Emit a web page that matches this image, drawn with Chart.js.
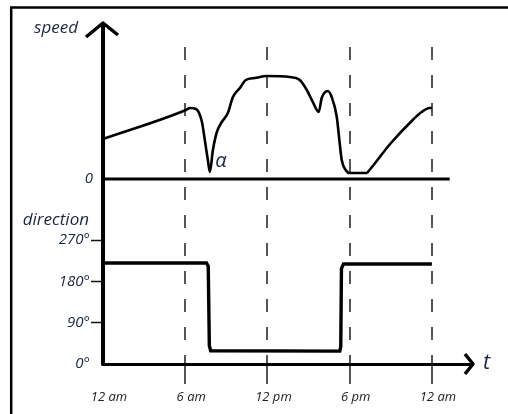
<!DOCTYPE html>
<html>
<head>
<meta charset="utf-8">
<script src="https://cdn.jsdelivr.net/npm/chart.js@4"></script>
<style>
  html, body { margin: 0; padding: 0; background: #fff; }
  #wrap { position: relative; width: 508px; height: 414px; }
</style>
</head>
<body>
<div id="wrap"><canvas id="chart" width="508" height="414"></canvas></div>
<script>
// hours since midnight and speed (arbitrary units, 0 = stopped)
const speedHours  = [0, 6.05, 6.35, 6.79, 7.22, 7.43, 7.65, 7.8, 8.02, 8.31, 8.67, 9.11, 9.48, 9.99, 10.42, 11.08, 11.95, 13.63, 14.36, 14.87, 15.31, 15.74, 15.96, 16.4, 16.69, 17.06, 17.27, 17.42, 17.71, 18.0, 19.24, 19.45, 20.95, 22.6, 23.25, 23.83, 24];
const speedValues = [40, 69, 71, 70, 57, 39, 19, 7, 29, 47, 57, 66, 82, 91, 99, 101, 103, 102, 99, 89, 77, 67, 81, 88, 82, 62, 36, 19, 9, 6, 6, 9, 35, 59, 67, 71, 71];

// direction in degrees
const dirHours  = [0, 7.55, 7.68, 7.76, 7.86, 17.28, 17.35, 17.4, 17.55, 24];
const dirValues = [220, 220, 213, 40, 29, 28, 38, 208, 218, 218];
// flat parts only, for the white stripe inside the line
const stripeHours  = [0, 7.55, 7.7, 7.86, 17.28, 17.4, 17.55, 24];
const stripeValues = [220, 220, null, 29, 28, null, 218, 218];

const hourTicks = [0, 6, 12, 18, 24];
const hourLabels = ["12 am", "6 am", "12 pm", "6 pm", "12 am"];
const dirTicks = [0, 90, 180, 270];

const TEXT = "#1c2541";
const pts = (xs, ys) => xs.map((x, i) => ({ x: x, y: ys[i] }));

// axes with arrows, frame and free labels
const decor = {
  id: "decor",
  afterDraw(chart) {
    const { ctx, chartArea: a, scales } = chart;
    const xs = scales.x, ss = scales.speed, ds = scales.dir;
    const x0 = xs.getPixelForValue(0);
    const y0 = ss.getPixelForValue(0);
    ctx.save();
    ctx.strokeStyle = "#000";
    ctx.lineCap = "butt";

    // frame
    ctx.lineWidth = 2.5;
    ctx.beginPath();
    ctx.moveTo(11.2, 414); ctx.lineTo(11.2, 7.5); ctx.lineTo(508, 7.5);
    ctx.stroke();

    // vertical axis + top arrow
    ctx.lineWidth = 4;
    ctx.beginPath();
    ctx.moveTo(x0, a.bottom + 1.5); ctx.lineTo(x0, a.top - 23);
    ctx.stroke();
    ctx.lineWidth = 3.5;
    ctx.lineJoin = "round";
    ctx.beginPath();
    ctx.moveTo(x0 - 17, a.top - 10); ctx.lineTo(x0, a.top - 24); ctx.lineTo(x0 + 15, a.top - 12);
    ctx.stroke();

    // speed zero line
    ctx.lineWidth = 3;
    ctx.beginPath();
    ctx.moveTo(x0, y0); ctx.lineTo(xs.getPixelForValue(25.3), y0);
    ctx.stroke();

    // time arrow head
    ctx.lineWidth = 3.5;
    ctx.beginPath();
    ctx.moveTo(a.right - 8, a.bottom - 10); ctx.lineTo(a.right, a.bottom); ctx.lineTo(a.right - 8, a.bottom + 10);
    ctx.stroke();

    // labels
    ctx.fillStyle = TEXT;
    ctx.textBaseline = "middle";
    ctx.font = "italic 17px 'Open Sans'";
    ctx.textAlign = "right";
    ctx.fillText("speed", x0 - 25, a.top - 19);
    ctx.fillText("direction", x0 - 14, ds.getPixelForValue(270) - 20);
    ctx.textAlign = "left";
    ctx.font = "italic 22px 'Open Sans'";
    ctx.fillText("t", a.right + 10, a.bottom - 1);
    ctx.font = "italic 20px 'Open Sans'";
    ctx.fillText("α", xs.getPixelForValue(8.2), ss.getPixelForValue(18));
    ctx.restore();
  }
};

const hideZero = (c, col) => (c.tick && c.tick.value === 0 ? "rgba(0,0,0,0)" : col);

new Chart(document.getElementById("chart"), {
  type: "line",
  data: {
    datasets: [
      {
        data: pts(speedHours, speedValues),
        yAxisID: "speed",
        borderColor: "#000",
        borderWidth: 2.6,
        pointRadius: 0,
        cubicInterpolationMode: "monotone"
      },
      {
        data: pts(dirHours, dirValues),
        yAxisID: "dir",
        borderColor: "#000",
        borderWidth: 3.4,
        pointRadius: 0,
        tension: 0
      },
      {
        data: pts(stripeHours, stripeValues),
        yAxisID: "dir",
        borderColor: "#fff",
        borderWidth: 1.3,
        borderDash: [5, 3],
        pointRadius: 0,
        spanGaps: false,
        tension: 0
      }
    ]
  },
  options: {
    responsive: false,
    animation: false,
    devicePixelRatio: 1,
    layout: { padding: { top: 47, right: 35, left: 0, bottom: 0 } },
    plugins: { legend: { display: false }, tooltip: { enabled: false } },
    scales: {
      x: {
        type: "linear",
        min: 0,
        max: 27,
        afterBuildTicks: s => { s.ticks = hourTicks.map(v => ({ value: v })); },
        afterFit: s => { s.height = 50; },
        grid: {
          color: c => hideZero(c, "#555"),
          lineWidth: 2,
          tickLength: 20,
          tickColor: c => hideZero(c, "#555"),
          tickWidth: 2
        },
        border: { display: true, color: "#000", width: 3, dash: [13, 15] },
        ticks: {
          callback: v => hourLabels[hourTicks.indexOf(v)],
          color: "#222",
          font: { family: "'Open Sans'", style: "italic", size: 13 },
          padding: 5,
          labelOffset: 6,
          maxRotation: 0
        }
      },
      // left boxes are laid out in reverse, so "dir" comes first to end up below
      dir: {
        type: "linear",
        position: "left",
        stack: "y",
        stackWeight: 185,
        min: 0,
        max: 403,
        afterBuildTicks: s => { s.ticks = dirTicks.map(v => ({ value: v })); },
        afterFit: s => { s.width = 103; },
        grid: {
          drawOnChartArea: false,
          drawTicks: true,
          tickLength: 12,
          tickWidth: 1.5,
          tickColor: c => hideZero(c, "#111")
        },
        border: { display: false },
        ticks: {
          callback: v => v + "°",
          color: TEXT,
          font: { family: "'Open Sans'", style: "italic", size: 15 },
          padding: 1
        }
      },
      speed: {
        type: "linear",
        position: "left",
        stack: "y",
        stackWeight: 132,
        min: 0,
        max: 132,
        afterBuildTicks: s => { s.ticks = [{ value: 0 }]; },
        afterFit: s => { s.width = 103; },
        grid: { display: false, drawTicks: false },
        border: { display: false },
        ticks: {
          color: TEXT,
          font: { family: "'Open Sans'", style: "italic", size: 15 },
          padding: 10
        }
      }
    }
  },
  plugins: [decor]
});
</script>
</body>
</html>
